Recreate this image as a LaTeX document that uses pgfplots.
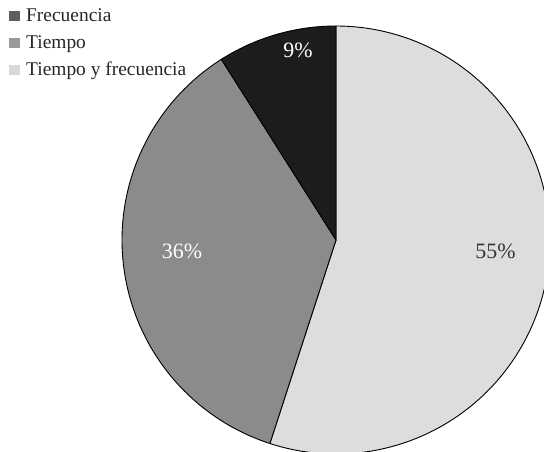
\documentclass[border=0pt]{standalone}
\usepackage{pgfplots}
\pgfplotsset{compat=1.18}
\usepackage{fontspec}
\setmainfont{Liberation Serif}
\definecolor{cLight}{HTML}{DCDDDD}
\definecolor{cMid}{HTML}{8A8B8A}
\definecolor{cDark}{HTML}{1C1C1C}
\definecolor{legDark}{HTML}{5E5E5E}
\definecolor{legMid}{HTML}{9A9A9A}
\definecolor{legLight}{HTML}{D8D8D8}
\begin{document}
\begin{tikzpicture}
\begin{axis}[
  width=544bp, height=452bp, scale only axis,
  xmin=0, xmax=544, ymin=0, ymax=452,
  hide axis, clip=true,
  legend style={draw=none, fill=none, at={(axis cs:9,444)}, anchor=north west,
    font=\fontsize{19.5}{23}\selectfont, text=black!85,
    row sep=9bp, inner xsep=0bp, inner ysep=0bp,
    nodes={inner xsep=0bp, inner ysep=0bp, text height=13bp, text depth=5bp},
    /tikz/every odd column/.append style={column sep=6bp}},
  legend cell align=left,
  legend image code/.code={\fill[#1, draw=none] (0bp,-3.5bp) rectangle (11bp,6.5bp);},
]
% slices: percent values 55, 36, 9 ; start at 90 deg, clockwise
\addplot[draw=black, line width=0.9bp, fill=cLight, domain={90-3.6*55}:90, samples=150, variable=\t, forget plot]
  ({336+214*cos(t)}, {212+214*sin(t)}) -- (axis cs:336,212) -- cycle;
\addplot[draw=black, line width=0.9bp, fill=cMid, domain={90-3.6*(55+36)}:{90-3.6*55}, samples=120, variable=\t, forget plot]
  ({336+214*cos(t)}, {212+214*sin(t)}) -- (axis cs:336,212) -- cycle;
\addplot[draw=black, line width=0.9bp, fill=cDark, domain={90-3.6*100}:{90-3.6*(55+36)}, samples=40, variable=\t, forget plot]
  ({336+214*cos(t)}, {212+214*sin(t)}) -- (axis cs:336,212) -- cycle;
\addlegendimage{fill=legDark}
\addlegendentry{Frecuencia}
\addlegendimage{fill=legMid}
\addlegendentry{Tiempo}
\addlegendimage{fill=legLight}
\addlegendentry{Tiempo y frecuencia}
\node[font=\fontsize{22}{26}\selectfont, text=white] at (axis cs:298,402) {9\%};
\node[font=\fontsize{22}{26}\selectfont, text=white] at (axis cs:182,201) {36\%};
\node[font=\fontsize{22}{26}\selectfont, text=black!80] at (axis cs:495.5,201) {55\%};
\end{axis}
\pgfresetboundingbox
\path (current axis.south west) rectangle (current axis.north east);
\end{tikzpicture}
\end{document}
